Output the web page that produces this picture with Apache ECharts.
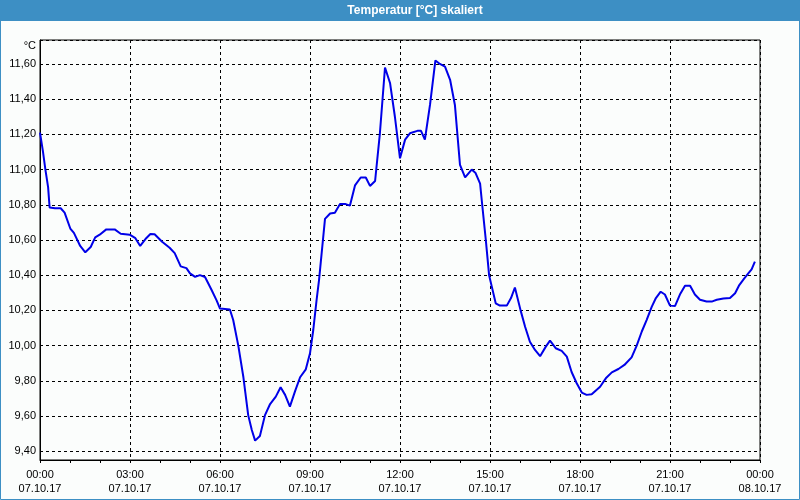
<!DOCTYPE html>
<html>
<head>
<meta charset="utf-8">
<script src="https://cdn.jsdelivr.net/npm/echarts@6/dist/echarts.min.js"></script>
<style>html,body{margin:0;padding:0;background:#fbfdfc;}#c{width:800px;height:500px;}</style>
</head>
<body>
<div id="c"></div>
<script>
// Time in hours since 07.10.17 00:00
const hours = [0.00,0.10,0.18,0.27,0.32,0.50,0.69,0.82,1.01,1.13,1.34,1.51,1.69,1.84,1.99,2.21,2.49,2.69,2.99,3.18,3.34,3.54,3.68,3.82,4.07,4.32,4.49,4.69,4.88,5.00,5.17,5.33,5.50,5.56,5.72,5.89,6.00,6.33,6.44,6.61,6.78,6.94,7.06,7.17,7.33,7.50,7.67,7.86,8.02,8.17,8.33,8.50,8.67,8.86,9.00,9.11,9.22,9.30,9.50,9.67,9.83,10.00,10.17,10.33,10.50,10.69,10.86,11.00,11.17,11.33,11.50,11.67,11.83,12.00,12.17,12.33,12.58,12.70,12.83,13.00,13.18,13.33,13.50,13.67,13.83,14.00,14.17,14.39,14.52,14.67,14.74,14.86,14.97,15.06,15.19,15.33,15.56,15.70,15.83,16.02,16.17,16.33,16.50,16.67,16.86,17.00,17.19,17.39,17.56,17.72,17.89,18.06,18.22,18.39,18.67,18.86,19.06,19.28,19.48,19.72,19.89,20.06,20.22,20.39,20.53,20.69,20.83,21.00,21.17,21.33,21.50,21.67,21.83,22.00,22.22,22.39,22.56,22.78,23.00,23.17,23.31,23.47,23.61,23.72,23.83];
const temps = [11.21,11.10,11.00,10.90,10.785,10.78,10.78,10.755,10.665,10.64,10.566,10.53,10.56,10.615,10.63,10.66,10.66,10.635,10.63,10.61,10.566,10.61,10.634,10.632,10.59,10.556,10.525,10.45,10.44,10.41,10.39,10.40,10.39,10.37,10.316,10.255,10.21,10.205,10.145,10.00,9.82,9.605,9.52,9.46,9.486,9.605,9.668,9.71,9.763,9.72,9.653,9.74,9.82,9.865,9.956,10.09,10.26,10.37,10.72,10.75,10.755,10.805,10.805,10.795,10.91,10.955,10.955,10.907,10.935,11.206,11.58,11.49,11.30,11.064,11.17,11.206,11.22,11.22,11.17,11.367,11.62,11.60,11.585,11.51,11.367,11.026,10.955,11.00,10.98,10.92,10.80,10.60,10.40,10.335,10.24,10.227,10.227,10.27,10.33,10.20,10.107,10.022,9.975,9.94,9.994,10.028,9.985,9.97,9.937,9.85,9.786,9.733,9.72,9.723,9.766,9.814,9.848,9.867,9.89,9.933,10.00,10.08,10.145,10.22,10.27,10.306,10.29,10.227,10.225,10.29,10.34,10.34,10.29,10.26,10.25,10.25,10.26,10.267,10.27,10.297,10.344,10.38,10.41,10.433,10.477];
const tickHours = [0,3,6,9,12,15,18,21,24];
const tickTimes = ['00:00','03:00','06:00','09:00','12:00','15:00','18:00','21:00','00:00'];
const tickDates = ['07.10.17','07.10.17','07.10.17','07.10.17','07.10.17','07.10.17','07.10.17','07.10.17','08.10.17'];
const titleText = 'Temperatur [°C] skaliert';
const unitText = '°C';

const FONT = '"Liberation Sans", Arial, sans-serif';
const chart = echarts.init(document.getElementById('c'), null, {renderer: 'canvas'});
const data = hours.map((h, i) => [h, temps[i]]);

chart.setOption({
  backgroundColor: '#fbfdfc',
  animation: false,
  grid: {left: 40, right: 40, top: 40, bottom: 40, show: true, borderColor: '#000', borderWidth: 1, backgroundColor: 'transparent'},
  xAxis: {
    type: 'value', min: 0, max: 24, interval: 3,
    axisLine: {lineStyle: {color: '#000', width: 1}},
    axisTick: {show: true, length: 3, lineStyle: {color: '#000'}},
    minorTick: {show: true, splitNumber: 3, length: 3, lineStyle: {color: '#000'}},
    splitLine: {show: true, lineStyle: {color: '#000', type: [3, 3], width: 1}},
    axisLabel: {
      color: '#000', fontFamily: FONT, fontSize: 11, lineHeight: 14, margin: 8,
      formatter: function (v) {
        const i = tickHours.indexOf(Math.round(v));
        return i < 0 ? '' : tickTimes[i] + '\n' + tickDates[i];
      }
    }
  },
  yAxis: {
    type: 'value', min: 9.35, max: 11.736, splitNumber: 12,
    axisLine: {show: true, lineStyle: {color: '#000', width: 1}},
    axisTick: {show: false},
    splitLine: {show: true, lineStyle: {color: '#000', type: [3, 3], width: 1}},
    axisLabel: {
      color: '#000', fontFamily: FONT, fontSize: 11, margin: 4,
      formatter: function (v) {
        const k = Math.round(v / 0.2);
        if (Math.abs(v - k * 0.2) > 1e-6) return '';
        return (k * 0.2).toFixed(2).replace('.', ',');
      }
    }
  },
  series: [{
    type: 'line', data: data, showSymbol: false, symbol: 'none',
    lineStyle: {color: '#0000e8', width: 2}, clip: true
  }],
  graphic: [
    {type: 'rect', shape: {x: 0, y: 0, width: 800, height: 21}, style: {fill: '#3d8fc4'}, z: 100},
    {type: 'rect', shape: {x: 0.5, y: 0.5, width: 799, height: 499}, style: {fill: 'none', stroke: '#3d8fc4', lineWidth: 1}, z: 100},
    {type: 'text', x: 415, y: 11, style: {text: titleText, fill: '#fff', font: 'bold 12px ' + FONT, textAlign: 'center', textVerticalAlign: 'middle'}, z: 101},
    {type: 'text', x: 36, y: 46, style: {text: unitText, fill: '#000', font: '11px ' + FONT, textAlign: 'right', textVerticalAlign: 'middle'}, z: 101}
  ]
});
</script>
</body>
</html>
